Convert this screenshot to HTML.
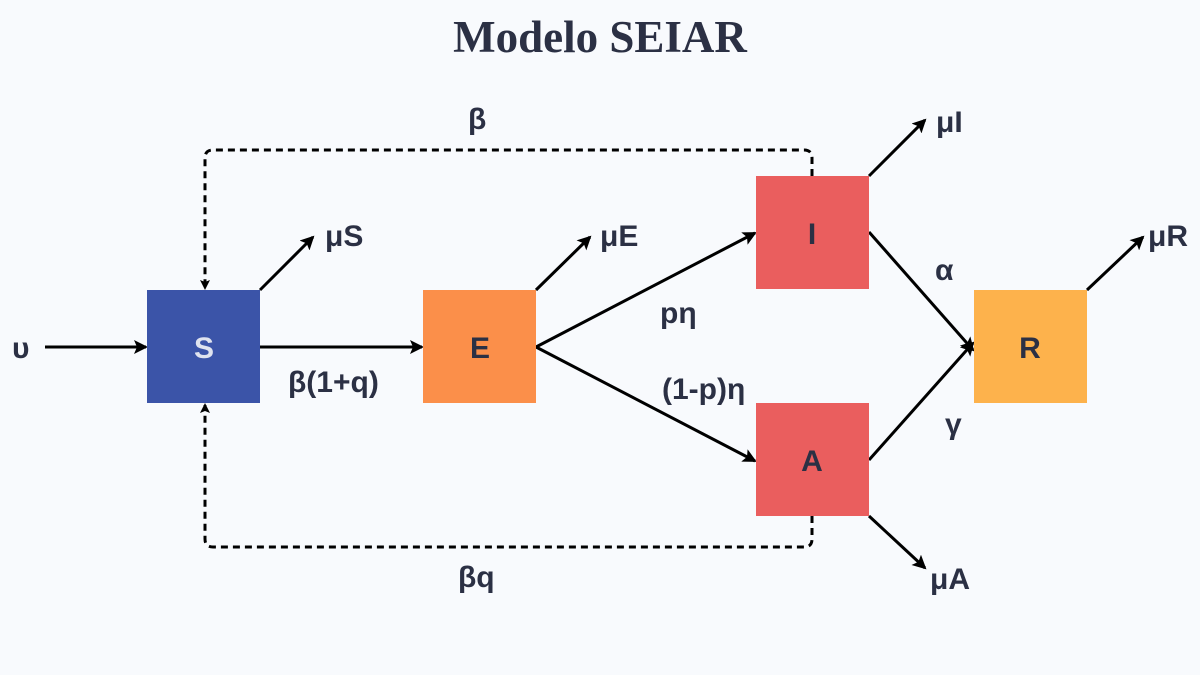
<!DOCTYPE html>
<html><head><meta charset="utf-8"><style>
html,body{margin:0;padding:0;background:#f8fafd;}
svg{display:block;}
text{font-family:"Liberation Sans","DejaVu Sans",sans-serif;font-weight:bold;fill:#2b3044;}
</style></head><body>
<svg width="1200" height="675" viewBox="0 0 1200 675">
<defs>
<marker id="ah" markerWidth="10" markerHeight="10" refX="8" refY="5" orient="auto" markerUnits="userSpaceOnUse" viewBox="0 0 10 10">
<path d="M0,0 L10,5 L0,10 L2,5 Z" fill="#000"/></marker>
<marker id="ah2" markerWidth="14" markerHeight="14" refX="12" refY="7" orient="auto" markerUnits="userSpaceOnUse" viewBox="0 0 14 14">
<path d="M0,0 L14,7 L0,14 L3,7 Z" fill="#000"/></marker>
</defs>
<text x="600" y="52" text-anchor="middle" style="font-family:'Liberation Serif',serif;font-size:45px">Modelo SEIAR</text>

<g stroke="#000" stroke-width="3" fill="none">
<path d="M812,176 V158 Q812,150 804,150 H213 Q205,150 205,158 V288" stroke-dasharray="7,5" marker-end="url(#ah)"/>
<path d="M812,516 V539 Q812,547 804,547 H213 Q205,547 205,539 V405" stroke-dasharray="7,5" marker-end="url(#ah)"/>
<line x1="45" y1="347" x2="146" y2="347" marker-end="url(#ah2)"/>
<line x1="260" y1="347" x2="422" y2="347" marker-end="url(#ah2)"/>
<line x1="260" y1="290" x2="313" y2="237" marker-end="url(#ah2)"/>
<line x1="536" y1="290" x2="590" y2="237" marker-end="url(#ah2)"/>
<line x1="536" y1="347" x2="755" y2="233" marker-end="url(#ah2)"/>
<line x1="536" y1="347" x2="755" y2="461" marker-end="url(#ah2)"/>
<line x1="869" y1="176" x2="925" y2="120" marker-end="url(#ah2)"/>
<line x1="869" y1="232" x2="973" y2="350" marker-end="url(#ah2)"/>
<line x1="869" y1="460" x2="973" y2="343" marker-end="url(#ah2)"/>
<line x1="869" y1="516" x2="925" y2="568" marker-end="url(#ah2)"/>
<line x1="1087" y1="290" x2="1143" y2="237" marker-end="url(#ah2)"/>
</g>

<rect x="147" y="290" width="113" height="113" fill="#3b54a8"/>
<rect x="423" y="290" width="113" height="113" fill="#fb8f4a"/>
<rect x="756" y="176" width="113" height="113" fill="#ea5e5e"/>
<rect x="756" y="403" width="113" height="113" fill="#ea5e5e"/>
<rect x="974" y="290" width="113" height="113" fill="#fdb24c"/>

<g font-size="30" text-anchor="middle">
<text x="204" y="358" style="fill:#dfe3ef">S</text>
<text x="480" y="358">E</text>
<text x="812" y="244">I</text>
<text x="812" y="471">A</text>
<text x="1030" y="358">R</text>
</g>

<g font-size="30">
<text x="12" y="358">υ</text>
<text x="288" y="392">β(1+q)</text>
<text x="325" y="246">μS</text>
<text x="600" y="246">μE</text>
<text x="660" y="323">pη</text>
<text x="662" y="399">(1-p)η</text>
<text x="936" y="132">μI</text>
<text x="935" y="280">α</text>
<text x="945" y="434">γ</text>
<text x="930" y="589">μA</text>
<text x="1148" y="246">μR</text>
<text x="468" y="129">β</text>
<text x="458" y="587">βq</text>
</g>
</svg>
</body></html>
